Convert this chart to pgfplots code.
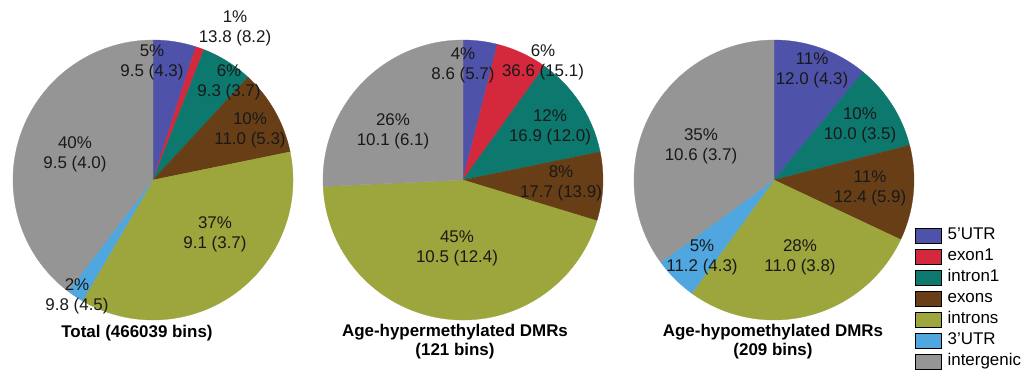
\documentclass[border=0pt]{standalone}
\usepackage{pgfplots}
\usepackage{pgfplotstable}
\usepackage{fontspec}
\setmainfont{Liberation Sans}
\pgfplotsset{compat=1.18}

\definecolor{cUTRf}{RGB}{78,82,168}
\definecolor{cExonA}{RGB}{212,40,60}
\definecolor{cIntronA}{RGB}{12,120,110}
\definecolor{cExons}{RGB}{104,62,22}
\definecolor{cIntrons}{RGB}{156,166,60}
\definecolor{cUTRt}{RGB}{80,166,222}
\definecolor{cInter}{RGB}{149,149,149}

% share of bins per genomic region (percent)
\pgfplotstableread{
region     pct col
5UTR       5   cUTRf
exon1      1   cExonA
intron1    6   cIntronA
exons      10  cExons
introns    37  cIntrons
3UTR       2   cUTRt
intergenic 40  cInter
}\tabTotal
\pgfplotstableread{
region     pct col
5UTR       4   cUTRf
exon1      6   cExonA
intron1    12  cIntronA
exons      8   cExons
introns    45  cIntrons
3UTR       0   cUTRt
intergenic 26  cInter
}\tabHyper
\pgfplotstableread{
region     pct col
5UTR       11  cUTRf
exon1      0   cExonA
intron1    10  cIntronA
exons      11  cExons
introns    28  cIntrons
3UTR       5   cUTRt
intergenic 35  cInter
}\tabHypo

% pie from a table: centre x, centre y, radius (bp), table
\newcommand\drawpie[4]{%
  \xdef\pietotal{0}%
  \pgfplotstableforeachcolumnelement{pct}\of#4\as\v{%
    \pgfmathparse{\pietotal+\v}\xdef\pietotal{\pgfmathresult}}%
  \xdef\pieangle{90}%
  \pgfplotstablegetrowsof{#4}\pgfmathtruncatemacro\pielast{\pgfplotsretval-1}%
  \foreach \k in {0,...,\pielast}{%
    \pgfplotstablegetelem{\k}{pct}\of#4\let\pv\pgfplotsretval
    \pgfplotstablegetelem{\k}{col}\of#4\let\pc\pgfplotsretval
    \pgfmathsetmacro\pend{\pieangle-360*\pv/\pietotal}%
    \ifdim\pv pt>0pt
      \edef\cmd{\noexpand\fill[\pc,draw=\pc,line width=0.3pt,line join=round]
        (axis cs:#1,#2) -- ++(\pieangle:#3bp)
        arc[start angle=\pieangle,end angle=\pend,radius=#3bp] -- cycle;}%
      \cmd
    \fi
    \xdef\pieangle{\pend}%
  }%
}

\pgfplotsset{
  pieleg/.style={legend image code/.code={\fill[##1] (0bp,-7.5bp) rectangle (26bp,7.5bp);}},
}

\begin{document}
\begin{tikzpicture}[
  lab/.style={align=center,font=\fontsize{17}{20}\selectfont,text=black!90,inner sep=0pt},
  ttl/.style={align=center,font=\fontsize{17}{19}\selectfont\bfseries,inner sep=0pt}]
% picture extent = plotting area
\useasboundingbox (0,0) rectangle (1030bp,372bp);
\begin{axis}[
  at={(0,0)},anchor=south west,
  width=1030bp,height=372bp,scale only axis,hide axis,
  xmin=0,xmax=1030,ymin=0,ymax=372,clip=false,
  legend cell align=left,
  legend style={at={(axis cs:915,144)},anchor=north west,draw=none,fill=none,
    inner sep=0pt,row sep=5.5bp,
    font=\fontsize{17}{19}\selectfont,
    nodes={inner sep=0pt,text height=11.5bp,text depth=3.5bp},
    /tikz/every odd column/.append style={column sep=6bp}},
]
\addlegendimage{pieleg,fill=cUTRf}\addlegendentry{5'UTR}
\addlegendimage{pieleg,fill=cExonA}\addlegendentry{exon1}
\addlegendimage{pieleg,fill=cIntronA}\addlegendentry{intron1}
\addlegendimage{pieleg,fill=cExons}\addlegendentry{exons}
\addlegendimage{pieleg,fill=cIntrons}\addlegendentry{introns}
\addlegendimage{pieleg,fill=cUTRt}\addlegendentry{3'UTR}
\addlegendimage{pieleg,fill=cInter}\addlegendentry{intergenic}

\drawpie{153}{192}{140}{\tabTotal}
\drawpie{463}{192}{140}{\tabHyper}
\drawpie{774}{192}{140}{\tabHypo}

% Total
\node[lab] at (axis cs:152,309.5) {5\%\\9.5 (4.3)};
\node[lab] at (axis cs:235,344) {1\%\\13.8 (8.2)};
\node[lab] at (axis cs:229,290) {6\%\\9.3 (3.7)};
\node[lab] at (axis cs:250,242) {10\%\\11.0 (5.3)};
\node[lab] at (axis cs:215,138) {37\%\\9.1 (3.7)};
\node[lab] at (axis cs:77,76) {2\%\\9.8 (4.5)};
\node[lab] at (axis cs:75,218) {40\%\\9.5 (4.0)};
\node[ttl] at (axis cs:137,39) {Total (466039 bins)};
% hypermethylated
\node[lab] at (axis cs:463,307) {4\%\\8.6 (5.7)};
\node[lab] at (axis cs:543,310) {6\%\\36.6 (15.1)};
\node[lab] at (axis cs:550,245) {12\%\\16.9 (12.0)};
\node[lab] at (axis cs:561,189) {8\%\\17.7 (13.9)};
\node[lab] at (axis cs:457,124) {45\%\\10.5 (12.4)};
\node[lab] at (axis cs:393,241) {26\%\\10.1 (6.1)};
\node[ttl] at (axis cs:455,30) {Age-hypermethylated DMRs\\(121 bins)};
% hypomethylated
\node[lab] at (axis cs:812,302) {11\%\\12.0 (4.3)};
\node[lab] at (axis cs:860,247) {10\%\\10.0 (3.5)};
\node[lab] at (axis cs:870,184) {11\%\\12.4 (5.9)};
\node[lab] at (axis cs:800,115) {28\%\\11.0 (3.8)};
\node[lab] at (axis cs:702,115) {5\%\\11.2 (4.3)};
\node[lab] at (axis cs:701,226) {35\%\\10.6 (3.7)};
\node[ttl] at (axis cs:773,30) {Age-hypomethylated DMRs\\(209 bins)};
\end{axis}
\end{tikzpicture}
\end{document}
